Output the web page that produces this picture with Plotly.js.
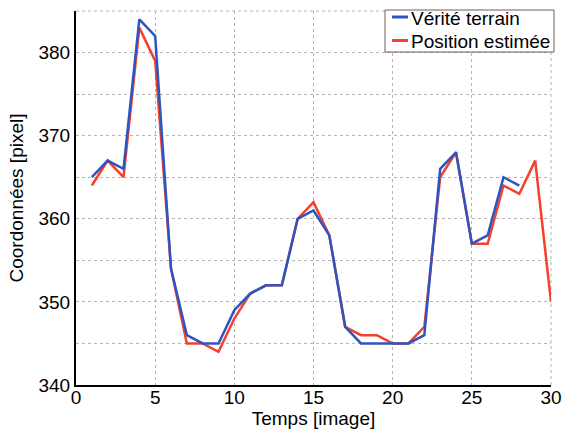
<!DOCTYPE html>
<html>
<head>
<meta charset="utf-8">
<script src="https://cdn.plot.ly/plotly-3.0.1.min.js"></script>
<style>html,body{margin:0;padding:0;background:#fff;}#chart{width:562px;height:433px;}</style>
</head>
<body>
<div id="chart"></div>
<script>
var frames = [1,2,3,4,5,6,7,8,9,10,11,12,13,14,15,16,17,18,19,20,21,22,23,24,25,26,27,28,29,30];
var groundTruth = [365,367,366,384,382,354,346,345,345,349,351,352,352,360,361,358,347,345,345,345,345,346,366,368,357,358,365,364];
var estimated = [364,367,365,383,379,354,345,345,344,348,351,352,352,360,362,358,347,346,346,345,345,347,365,368,357,357,364,363,367,350];
var seriesNames = ['Vérité terrain','Position estimée'];
var seriesColors = ['#2c55c2','#f5412b'];
var xTitle = 'Temps [image]';
var yTitle = 'Coordonnées [pixel]';

var font = 'Liberation Sans, Arial, sans-serif';
var FS = 19;
var traces = [
  {x: frames.slice(0, estimated.length), y: estimated, name: seriesNames[1], mode: 'lines',
   line: {color: seriesColors[1], width: 2.5}},
  {x: frames.slice(0, groundTruth.length), y: groundTruth, name: seriesNames[0], mode: 'lines',
   line: {color: seriesColors[0], width: 2.5}}
];

// plot area in pixels
var L = 76, T = 11, W = 475, H = 374;
function px(x) { return (x - L) / W; }
function py(y) { return (T + H - y) / H; }

var gridCol = '#b4b4b4';
var gridStyle = {color: gridCol, width: 1, dash: 'dot'};
var shapes = [
  {type: 'line', xref: 'paper', yref: 'paper', x0: 1, x1: 1, y0: 0, y1: 1, line: gridStyle, layer: 'below'},
  {type: 'line', xref: 'paper', yref: 'paper', x0: 0, x1: 1, y0: 1, y1: 1, line: gridStyle, layer: 'below'},
  // legend box
  {type: 'rect', xref: 'paper', yref: 'paper', x0: px(385), x1: px(554), y0: py(52), y1: py(10),
   fillcolor: '#fff', line: {color: '#7a5a50', width: 1}, layer: 'above'},
  {type: 'line', xref: 'paper', yref: 'paper', x0: px(392), x1: px(408), y0: py(17), y1: py(17),
   line: {color: seriesColors[0], width: 3}, layer: 'above'},
  {type: 'line', xref: 'paper', yref: 'paper', x0: px(392), x1: px(408), y0: py(40.5), y1: py(40.5),
   line: {color: seriesColors[1], width: 3}, layer: 'above'}
];
var annotations = [
  {xref: 'paper', yref: 'paper', x: px(409), y: py(18.5), xanchor: 'left', yanchor: 'middle', showarrow: false,
   text: seriesNames[0], font: {family: font, size: FS, color: '#000'}},
  {xref: 'paper', yref: 'paper', x: px(409), y: py(41), xanchor: 'left', yanchor: 'middle', showarrow: false,
   text: seriesNames[1], font: {family: font, size: FS, color: '#000'}}
];

var layout = {
  width: 562, height: 433,
  margin: {l: L, r: 562 - L - W, t: T, b: 433 - T - H},
  paper_bgcolor: '#fff', plot_bgcolor: '#fff',
  font: {family: font, size: FS, color: '#000'},
  showlegend: false,
  shapes: shapes,
  annotations: annotations,
  xaxis: {range: [0, 30], dtick: 5, tick0: 0, showgrid: true, gridcolor: gridCol, griddash: 'dot', gridwidth: 1,
    showline: true, linecolor: '#000', linewidth: 2, zeroline: false, ticks: '', ticklabelstandoff: -6,
    title: {text: xTitle, font: {family: font, size: FS}, standoff: 4}, tickfont: {size: FS}},
  yaxis: {range: [340, 385], dtick: 10, tick0: 340, showgrid: true, gridcolor: gridCol, griddash: 'dot', gridwidth: 1,
    minor: {dtick: 5, showgrid: true, gridcolor: gridCol, griddash: 'dot', gridwidth: 1},
    showline: true, linecolor: '#000', linewidth: 2, zeroline: false, ticks: '',
    title: {text: yTitle, font: {family: font, size: FS}, standoff: 10}, tickfont: {size: FS}}
};
Plotly.newPlot('chart', traces, layout, {displayModeBar: false, staticPlot: true});
</script>
</body>
</html>
